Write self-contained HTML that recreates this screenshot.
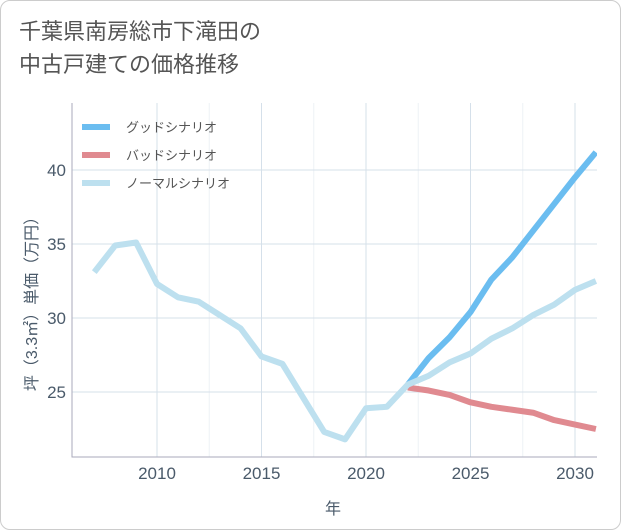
<!DOCTYPE html>
<html><head><meta charset="utf-8"><style>
body{margin:0;background:#fff;}
#card{position:absolute;left:0;top:0;width:619px;height:528px;border:1px solid #ccc;border-radius:10px;background:#fff;}
#title{position:absolute;left:18px;top:14px;font:22px/33px "Liberation Sans","Noto Sans CJK JP",sans-serif;color:#555;}
svg text{font-family:"Liberation Sans","Noto Sans CJK JP",sans-serif;}
</style></head><body>
<div id="card">
<div id="title">千葉県南房総市下滝田の<br>中古戸建ての価格推移</div>
</div>
<svg id="chart" width="621" height="530" style="position:absolute;left:0;top:0"></svg>
<script>
const years=[2007,2008,2009,2010,2011,2012,2013,2014,2015,2016,2017,2018,2019,2020,2021,2022,2023,2024,2025,2026,2027,2028,2029,2030,2031];
const normalVals=[33.1,34.9,35.1,32.3,31.4,31.1,30.2,29.3,27.4,26.9,24.6,22.3,21.8,23.9,24.0,25.5,26.1,27.0,27.6,28.6,29.3,30.2,30.9,31.9,32.5];
const futureYears=[2022,2023,2024,2025,2026,2027,2028,2029,2030,2031];
const goodVals=[25.5,27.3,28.7,30.4,32.6,34.1,35.9,37.7,39.5,41.2];
const badVals=[25.3,25.1,24.8,24.3,24.0,23.8,23.6,23.1,22.8,22.5];
const xTicks=[2010,2015,2020,2025,2030];
const yTicks=[25,30,35,40];
const L=72,R=597,T=103,B=457;
const x=v=>157+(v-2010)*20.9;
const y=v=>392-(v-25)*14.8;
const svg=document.getElementById('chart');
const NS='http://www.w3.org/2000/svg';
function mk(t,a){const e=document.createElementNS(NS,t);for(const k in a)e.setAttribute(k,a[k]);svg.appendChild(e);return e;}
xTicks.forEach(t=>{
 const g=mk('line',{x1:x(t),x2:x(t),y1:T,y2:B,stroke:'#d5e0ea','stroke-width':1});
 
 
 const m=mk('line',{x1:x(t+2.5),x2:x(t+2.5),y1:T,y2:B,stroke:'#eef2f6','stroke-width':1});
 
 
 const tx=mk('text',{x:x(t),y:479,'text-anchor':'middle','font-size':17,fill:'#4a5a6a'});tx.textContent=t;
 
 
});
yTicks.forEach(t=>{
 const g=mk('line',{x1:L,x2:R,y1:y(t),y2:y(t),stroke:'#d5e0ea','stroke-width':1});
 
 
 const tx=mk('text',{x:66,y:y(t)+6,'text-anchor':'end','font-size':17,fill:'#4a5a6a'});tx.textContent=t;
 
 
});
const ax=mk('path',{d:`M${L} ${T}V${B}H${R}`,fill:'none',stroke:'#aab','stroke-width':1});


function line(xs,vs,c,name){
 const p=mk('polyline',{points:xs.map((yr,i)=>x(yr)+','+y(vs[i])).join(' '),fill:'none',stroke:c,'stroke-width':6,'stroke-linejoin':'round'});
 
 
}
const cp=mk('clipPath',{id:'cp'});const cr=document.createElementNS(NS,'rect');cr.setAttribute('x',L);cr.setAttribute('y',T);cr.setAttribute('width',R-L);cr.setAttribute('height',B-T);cp.appendChild(cr);
line(futureYears,badVals,'#e08a90','bad-scenario-line');
line(futureYears,goodVals,'#6bbdf0','good-scenario-line');
line(years,normalVals,'#bde0ef','normal-scenario-line');
svg.querySelectorAll('polyline').forEach(p=>p.setAttribute('clip-path','url(#cp)'));
const leg=[['グッドシナリオ','#6bbdf0',127],['バッドシナリオ','#e08a90',155],['ノーマルシナリオ','#bde0ef',183]];
leg.forEach(([n,c,yy])=>{
 const l=mk('line',{x1:82,x2:110,y1:yy,y2:yy,stroke:c,'stroke-width':6});
 
 
 const t=mk('text',{x:126,y:yy+5,'font-size':13,fill:'#555'});t.textContent=n;
 
 
});
const xt=mk('text',{x:333,y:514,'text-anchor':'middle','font-size':16,fill:'#4a5a6a'});xt.textContent='年';


const yt=mk('text',{x:0,y:0,'text-anchor':'middle','font-size':16,fill:'#4a5a6a',transform:'translate(37,300) rotate(-90)'});yt.textContent='坪（3.3㎡）単価（万円）';


</script>
</body></html>
